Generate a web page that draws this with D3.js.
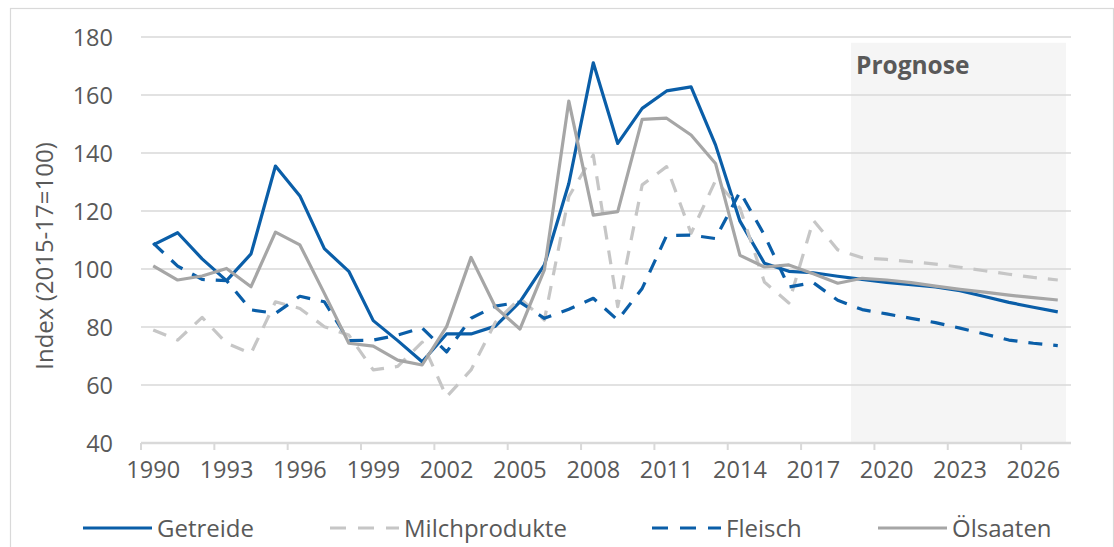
<!DOCTYPE html>
<html>
<head>
<meta charset="utf-8">
<script src="https://cdn.jsdelivr.net/npm/d3@7"></script>
<style>
  html, body { margin: 0; padding: 0; background: #fff; }
  svg { display: block; }
  text { font-family: "Open Sans", "Noto Sans", sans-serif; fill: #595959; }
</style>
</head>
<body>
<svg id="chart" width="1114" height="547"></svg>
<script>
const years = [1990,1991,1992,1993,1994,1995,1996,1997,1998,1999,2000,2001,2002,2003,2004,2005,2006,2007,2008,2009,2010,2011,2012,2013,2014,2015,2016,2017,2018,2019,2020,2021,2022,2023,2024,2025,2026,2027];

const getreide = [108.3,112.5,103.5,96,105.2,135.5,125.2,107,99.2,82.2,75.3,68,77.6,77.6,80.3,88.7,101.4,129.5,171.1,143.3,155.4,161.4,162.8,142.8,116.5,102,99.2,98.7,97.5,96.4,95.4,94.6,93.8,92.5,90.5,88.5,86.8,85.2];
const milchprodukte = [79,75.5,83.3,74.4,70.9,88.7,86.4,80.1,77.2,65.2,66.4,74.8,55.9,65.2,81.7,89.9,82.4,125,139.3,87,129,135.3,112.3,130.5,121,95.5,88.3,116.8,106.6,103.9,103.3,102.5,101.7,100.6,99.4,98.2,97.1,96.2];
const fleisch = [108.9,101,96.4,96,85.9,84.7,90.6,88.7,75.3,75.5,77.2,79.7,71.4,83,87.2,88.6,83,86.1,89.9,82.4,93.3,111.5,111.7,110.5,126.6,111.7,93.8,95.3,89.2,86,84.5,83,81.5,79.6,77.6,75.5,74.4,73.6];
const oelsaaten = [101.1,96.2,97.6,100.2,93.9,112.7,108.3,91.6,74.4,73.4,68.6,66.9,80.1,104,86.8,79.3,99.7,157.9,118.6,119.8,151.6,152,146.2,136.4,104.7,100.7,101.4,98.4,95.1,96.8,96.2,95.3,94.1,93,92,91,90.1,89.3];

const seriesNames = ["Getreide","Milchprodukte","Fleisch","Ölsaaten"];
const yTicks = [40,60,80,100,120,140,160,180];
const xTickLabels = [1990,1993,1996,1999,2002,2005,2008,2011,2014,2017,2020,2023,2026];
const prognoseLabel = "Prognose";
const prognoseFrom = 2019;
const yTitle = "Index (2015-17=100)";

const BLUE = "#0a5ea8";
const series = [
  {name: seriesNames[0], values: getreide, color: BLUE, dash: null},
  {name: seriesNames[1], values: milchprodukte, color: "#c6c6c6", dash: "14,11"},
  {name: seriesNames[2], values: fleisch, color: BLUE, dash: "14,11"},
  {name: seriesNames[3], values: oelsaaten, color: "#a6a6a6", dash: null}
];

const svg = d3.select("#chart");
const pLeft = 141, pRight = 1070, pTop = 37, pBottom = 443;

const x = d3.scaleBand().domain(years).range([pLeft, pRight]).padding(0);
const cx = d => x(d) + x.bandwidth() / 2;
const y = d3.scaleLinear().domain([40, 180]).range([pBottom, pTop]);

// outer border
svg.append("rect").attr("x", 10.5).attr("y", 8.5).attr("width", 1103).attr("height", 560)
  .attr("fill", "none").attr("stroke", "#d9d9d9").attr("stroke-width", 1.2);

// forecast shading
const shadeX0 = x(prognoseFrom) + 1;
const shadeX1 = pRight - 4;
svg.append("rect")
  .attr("x", shadeX0).attr("y", y(178))
  .attr("width", shadeX1 - shadeX0).attr("height", y(40) - y(178))
  .attr("fill", "#f5f5f5");

// gridlines
svg.append("g").selectAll("line").data(yTicks.filter(v => v > 40)).join("line")
  .attr("x1", pLeft).attr("x2", pRight + 1)
  .attr("y1", d => y(d)).attr("y2", d => y(d))
  .attr("stroke", "#d9d9d9").attr("stroke-width", 1.5);

// x axis line and ticks
svg.append("line").attr("x1", pLeft).attr("x2", pRight + 1).attr("y1", y(40)).attr("y2", y(40))
  .attr("stroke", "#d9d9d9").attr("stroke-width", 2.5);
const tickYears = years.filter((d, i) => i % 3 === 0);
svg.append("g").selectAll("line").data(tickYears).join("line")
  .attr("x1", d => x(d)).attr("x2", d => x(d))
  .attr("y1", y(40)).attr("y2", y(40) + 7)
  .attr("stroke", "#d9d9d9").attr("stroke-width", 2);

// x labels
svg.append("g").selectAll("text").data(xTickLabels).join("text")
  .attr("x", d => cx(d)).attr("y", 478)
  .attr("text-anchor", "middle").attr("font-size", 23.5)
  .text(d => d);

// y labels
svg.append("g").selectAll("text").data(yTicks).join("text")
  .attr("x", 113).attr("y", d => y(d) + 8.5)
  .attr("text-anchor", "end").attr("font-size", 23.5)
  .text(d => d);

// y title
svg.append("text")
  .attr("transform", "translate(53,256) rotate(-90)")
  .attr("text-anchor", "middle").attr("font-size", 24)
  .text(yTitle);

// Prognose label
svg.append("text").attr("x", 856).attr("y", 74)
  .attr("font-size", 24.5).attr("font-weight", "bold")
  .text(prognoseLabel);

// lines
const line = d3.line().x((d, i) => cx(years[i])).y(d => y(d));
svg.append("g").selectAll("path").data(series).join("path")
  .attr("d", d => line(d.values))
  .attr("fill", "none")
  .attr("stroke", d => d.color)
  .attr("stroke-width", 3.2)
  .attr("stroke-linejoin", "round")
  .attr("stroke-dasharray", d => d.dash);

// legend
const legendX = [83, 330, 652, 878];
const legendY = 528;
const lg = svg.append("g").selectAll("g").data(series).join("g")
  .attr("transform", (d, i) => `translate(${legendX[i]},${legendY})`);
lg.append("line").attr("x1", 0).attr("x2", 69).attr("y1", 0).attr("y2", 0)
  .attr("stroke", d => d.color).attr("stroke-width", 3.2)
  .attr("stroke-dasharray", d => d.dash ? "16,12" : null);
lg.append("text").attr("x", 74).attr("y", 8.5).attr("font-size", 24)
  .text(d => d.name);
</script>
</body>
</html>
